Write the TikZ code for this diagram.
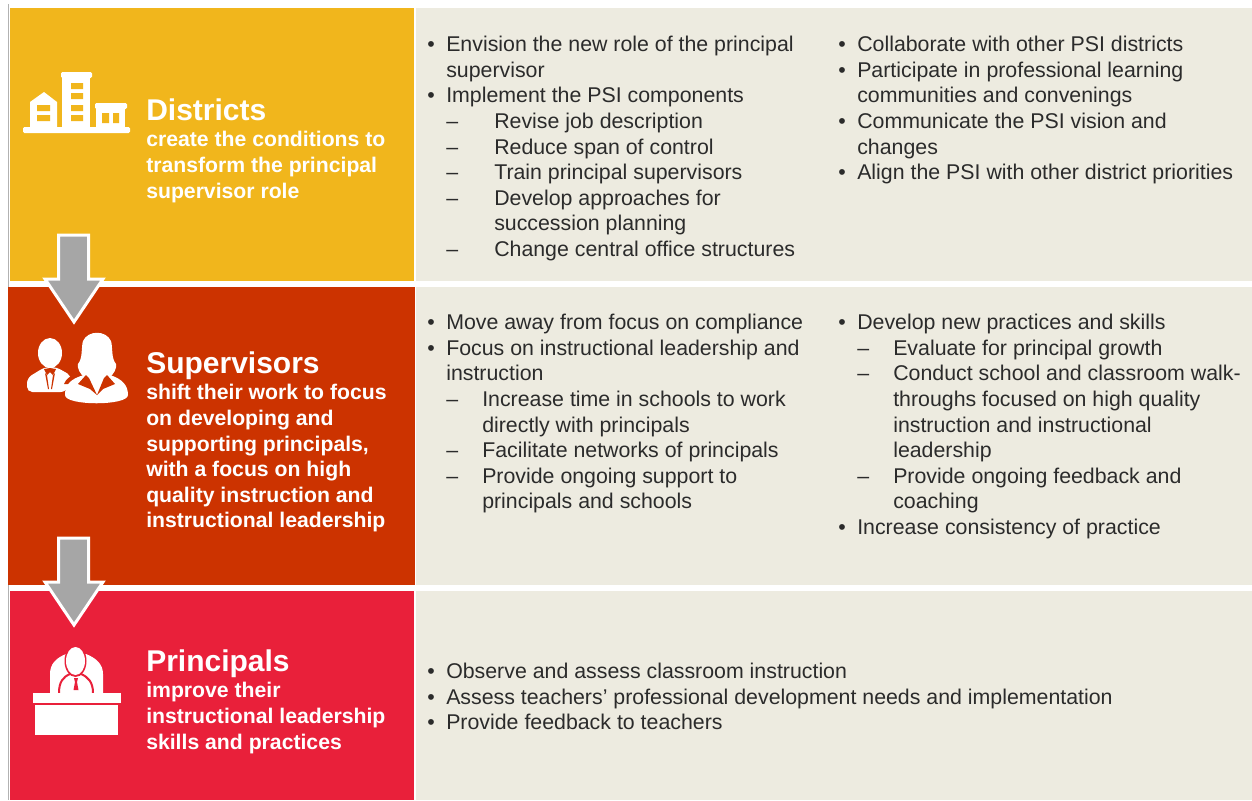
\documentclass[tikz,border=0pt]{standalone}
\usepackage{fontspec}
\setmainfont{Liberation Sans}
\usetikzlibrary{positioning}
\definecolor{districtcol}{HTML}{F1B61C}
\definecolor{supervisorcol}{HTML}{CC3300}
\definecolor{principalcol}{HTML}{E9203A}
\definecolor{detailcol}{HTML}{EDEBE0}
\definecolor{bodycol}{HTML}{2B2B2B}
\definecolor{arrowcol}{HTML}{A6A6A6}
\newcommand{\itm}[1]{\makebox[14.25pt][l]{\textbullet}#1}
\newcommand{\itmc}[1]{\hspace*{14.25pt}#1}
\newcommand{\subi}[1]{\hspace*{14.25pt}\makebox[36pt][l]{--}#1}
\newcommand{\subic}[1]{\hspace*{50.25pt}#1}
\newcommand{\subj}[1]{\hspace*{14.25pt}\makebox[27pt][l]{--}#1}
\newcommand{\subjc}[1]{\hspace*{41.25pt}#1}
\tikzset{
  lefthalf/.style={anchor=north west,minimum width=302.5pt,inner sep=0},
  righthalf/.style={anchor=north west,minimum width=627pt,inner sep=0,fill=detailcol},
  title/.style={anchor=base west,inner sep=0,text=white,text depth=5pt,font=\fontsize{22.5}{27}\selectfont\bfseries},
  subtitle/.style={anchor=north west,inner sep=0,text=white,align=left,font=\fontsize{15.9}{19.2}\selectfont\bfseries},
  detail/.style={anchor=north west,inner sep=0,text=bodycol,align=left,font=\fontsize{16}{19.2}\selectfont},
  blockarrow/.style={draw=white,line width=2.25pt,fill=arrowcol,line join=miter},
  iconpart/.style={fill=white,draw=none}
}
\begin{document}
\begin{tikzpicture}[x=0.75pt,y=-0.75pt,node distance=4pt]
\useasboundingbox (0,0) rectangle (1252,800);
\fill[white] (0,0) rectangle (1252,800);

% panels
\node[lefthalf,fill=districtcol,minimum height=204.75pt] (districts) at (10,8) {};
\node[lefthalf,fill=supervisorcol,minimum width=305pt,minimum height=223.5pt] (supervisors) at (8,287) {};
\node[lefthalf,fill=principalcol,minimum height=156.75pt] (principals) at (10,591) {};
\node[righthalf,minimum height=204.75pt] (districtsdetail) at (416,8) {};
\node[righthalf,minimum height=223.5pt] (supervisorsdetail) at (416,287) {};
\node[righthalf,minimum height=156.75pt] (principalsdetail) at (416,591) {};
\draw[black!30,line width=0.75pt] (8,4) -- (8,287) (8,585) -- (8,800);

% arrows
\foreach \dy in {0,303} {
  \draw[blockarrow] (58.5,235+\dy) -- (88.5,235+\dy) -- (88.5,279+\dy) -- (103,279+\dy)
    -- (74,322+\dy) -- (45,279+\dy) -- (58.5,279+\dy) -- cycle;
}

% district icon
\fill[iconpart,rounded corners=1pt] (23,127) rectangle (130,133);
\fill[iconpart] (30,128) -- (30,102) -- (44,92) -- (57,102) -- (57,128) -- cycle;
\fill[iconpart] (62,75) rectangle (90,128);
\fill[iconpart,rounded corners=1pt] (61,72) rectangle (92,78);
\fill[iconpart] (96,106) rectangle (125,128);
\fill[iconpart,rounded corners=1pt] (95,103) rectangle (127,109);
\fill[districtcol] (37,105) rectangle (50,111) (37,115) rectangle (50,121);
\fill[districtcol] (71,83) rectangle (83,89) (71,93) rectangle (83,99)
  (71,105) rectangle (83,111) (71,115) rectangle (83,121);
\fill[districtcol] (102,113) rectangle (109,123) (113,113) rectangle (119,123);

% supervisor icon
\fill[iconpart] (50,353) ellipse [x radius=12,y radius=15];
\fill[iconpart,rounded corners=4pt] (27,392) -- (27,378) -- (45,367) -- (56,367) -- (72,376) -- (66,392) -- cycle;
\fill[supervisorcol] (44,369) -- (47,375) -- (50,372) -- (53,375) -- (56,369) -- (50,368) -- cycle;
\fill[supervisorcol] (47,375) -- (49,389) -- (48,389) -- (45,373) -- cycle;
\fill[supervisorcol] (53,375) -- (51,389) -- (52,389) -- (55,373) -- cycle;
\fill[supervisorcol] (64,384) .. controls (66,379) and (70,376) .. (76,374) -- (72,384) -- cycle;
\fill[iconpart] (85,378) .. controls (80,374) and (77,368) .. (78,364)
  .. controls (83,358) and (81,348) .. (83,341) .. controls (88,330) and (106,330) .. (111,341)
  .. controls (113,348) and (111,358) .. (116,364) .. controls (117,368) and (114,374) .. (109,378) -- cycle;
\fill[iconpart] (65,395) .. controls (65,385) and (70,379) .. (84,375) -- (110,375)
  .. controls (122,379) and (128,385) .. (128,395) .. controls (128,406) and (65,406) .. (65,395) -- cycle;
\fill[supervisorcol] (78,384) -- (86,375) -- (89,378) -- (97,395) -- (90,389) -- cycle;
\fill[supervisorcol] (115,384) -- (107,375) -- (104,378) -- (97,395) -- (103,389) -- cycle;

% principal icon
\fill[iconpart] (50,693) -- (50,674) .. controls (50,664) and (56,658) .. (66,654)
  -- (86,654) .. controls (96,658) and (103,664) .. (103,674) -- (103,693) -- cycle;
\fill[principalcol] (75.5,661) ellipse [x radius=11,y radius=16];
\draw[principalcol,line width=1.5pt] (59,693) .. controls (59,682) and (63,677) .. (70,674)
  (93,693) .. controls (93,682) and (88,677) .. (81,674);
\fill[iconpart] (75.5,661) ellipse [x radius=9.5,y radius=14];
\fill[principalcol] (74,678) -- (78,678) -- (77,682) -- (78.5,690) -- (73.5,690) -- (75,682) -- cycle;
\fill[iconpart] (33,693) rectangle (121,703);
\fill[iconpart] (35,705) rectangle (118,735);

% left labels
\node[title] (districtstitle) at (146,120) {Districts};
\node[subtitle,below=3.25pt of districtstitle.south west,anchor=north west] (districtstext) {create the conditions to\\transform the principal\\supervisor role};
\node[title] (supervisorstitle) at (146,373) {Supervisors};
\node[subtitle,below=3.25pt of supervisorstitle.south west,anchor=north west] (supervisorstext) {shift their work to focus\\on developing and\\supporting principals,\\with a focus on high\\quality instruction and\\instructional leadership};
\node[title] (principalstitle) at (146,671) {Principals};
\node[subtitle,below=3.25pt of principalstitle.south west,anchor=north west] (principalstext) {improve their\\instructional leadership\\skills and practices};

% details
\node[detail] (districtsleft) at (427,36) {\itm{Envision the new role of the principal}\\\itmc{supervisor}\\\itm{Implement the PSI components}\\\subi{Revise job description}\\\subi{Reduce span of control}\\\subi{Train principal supervisors}\\\subi{Develop approaches for}\\\subic{succession planning}\\\subi{Change central office structures}};
\node[detail] (districtsright) at (838,36) {\itm{Collaborate with other PSI districts}\\\itm{Participate in professional learning}\\\itmc{communities and convenings}\\\itm{Communicate the PSI vision and}\\\itmc{changes}\\\itm{Align the PSI with other district priorities}};
\node[detail] (supervisorsleft) at (427,314) {\itm{Move away from focus on compliance}\\\itm{Focus on instructional leadership and}\\\itmc{instruction}\\\subj{Increase time in schools to work}\\\subjc{directly with principals}\\\subj{Facilitate networks of principals}\\\subj{Provide ongoing support to}\\\subjc{principals and schools}};
\node[detail] (supervisorsright) at (838,314) {\itm{Develop new practices and skills}\\\subj{Evaluate for principal growth}\\\subj{Conduct school and classroom walk-}\\\subjc{throughs focused on high quality}\\\subjc{instruction and instructional}\\\subjc{leadership}\\\subj{Provide ongoing feedback and}\\\subjc{coaching}\\\itm{Increase consistency of practice}};
\node[detail] (principalsleft) at (427,663) {\itm{Observe and assess classroom instruction}\\\itm{Assess teachers’ professional development needs and implementation}\\\itm{Provide feedback to teachers}};
\end{tikzpicture}
\end{document}
